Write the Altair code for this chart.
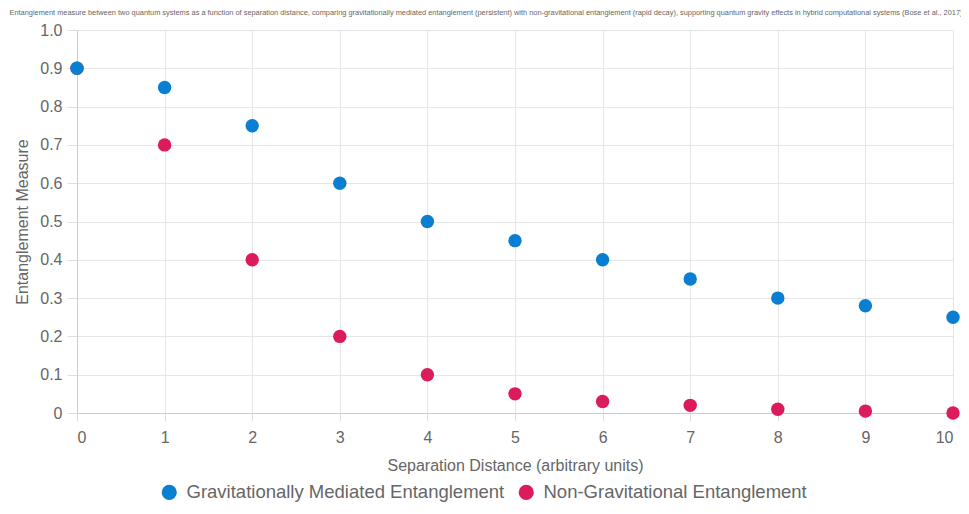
import altair as alt
import pandas as pd

distance = [0, 1, 2, 3, 4, 5, 6, 7, 8, 9, 10]
grav = [0.9, 0.85, 0.75, 0.6, 0.5, 0.45, 0.4, 0.35, 0.3, 0.28, 0.25]
nongrav = [0.9, 0.7, 0.4, 0.2, 0.1, 0.05, 0.03, 0.02, 0.01, 0.005, 0.0]
series = ["Gravitationally Mediated Entanglement", "Non-Gravitational Entanglement"]
colors = ["#0a7fd2", "#dc1a5e"]

rows = []
for d, v in zip(distance, nongrav):
    rows.append({"x": d, "y": v, "s": series[1], "o": 0})
for d, v in zip(distance, grav):
    rows.append({"x": d, "y": v, "s": series[0], "o": 1})
df = pd.DataFrame(rows)

title = ("Entanglement measure between two quantum systems as a function of separation distance, "
         "comparing gravitationally mediated entanglement (persistent) with non-gravitational entanglement "
         "(rapid decay), supporting quantum gravity effects in hybrid computational systems (Bose et al., 2017)")

chart = alt.Chart(df).mark_circle(size=180, opacity=1).encode(
    x=alt.X("x:Q", scale=alt.Scale(domain=[0, 10], nice=False),
            axis=alt.Axis(title="Separation Distance (arbitrary units)", values=distance,
                          format="d", labelFontSize=16, labelColor="#666", titleFontSize=16,
                          titleColor="#666", titleFontWeight="normal", titlePadding=12,
                          tickSize=8, tickColor="#ddd", domainColor="#ccc", gridColor="#e6e6e6",
                          labelPadding=8, labelFont="Liberation Sans", titleFont="Liberation Sans")),
    y=alt.Y("y:Q", scale=alt.Scale(domain=[0, 1], nice=False),
            axis=alt.Axis(title="Entanglement Measure", values=[0, 0.1, 0.2, 0.3, 0.4, 0.5, 0.6, 0.7, 0.8, 0.9, 1.0],
                          labelExpr="datum.value == 0 ? '0' : format(datum.value, '.1f')",
                          labelFontSize=16, labelColor="#666", titleFontSize=16, titleColor="#666",
                          titleFontWeight="normal", tickSize=10, tickColor="#ddd", domainColor="#ccc",
                          gridColor="#e6e6e6", labelPadding=5, titlePadding=9,
                          labelFont="Liberation Sans", titleFont="Liberation Sans")),
    color=alt.Color("s:N", scale=alt.Scale(domain=series, range=colors),
                    legend=alt.Legend(orient="none", legendX=83, legendY=453,
                                      direction="horizontal", title=None,
                                      symbolType="circle", symbolSize=230, labelFontSize=18.5,
                                      labelColor="#666", labelFont="Liberation Sans",
                                      labelLimit=500, columnPadding=12, labelOffset=8,
                                      symbolStrokeWidth=0)),
    order=alt.Order("o:Q"),
).properties(
    width=876, height=383,
    title=alt.TitleParams(title, fontSize=7.4, font="Liberation Sans", color="#666",
                          fontWeight="normal", anchor="middle", offset=6, dx=-29),
    padding={"left": 69, "top": 22, "right": 8, "bottom": 92},
    autosize=alt.AutoSizeParams(type="none"),
).configure_view(stroke=None)

chart.save("out.html", embed_options={"renderer": "svg", "actions": False})
